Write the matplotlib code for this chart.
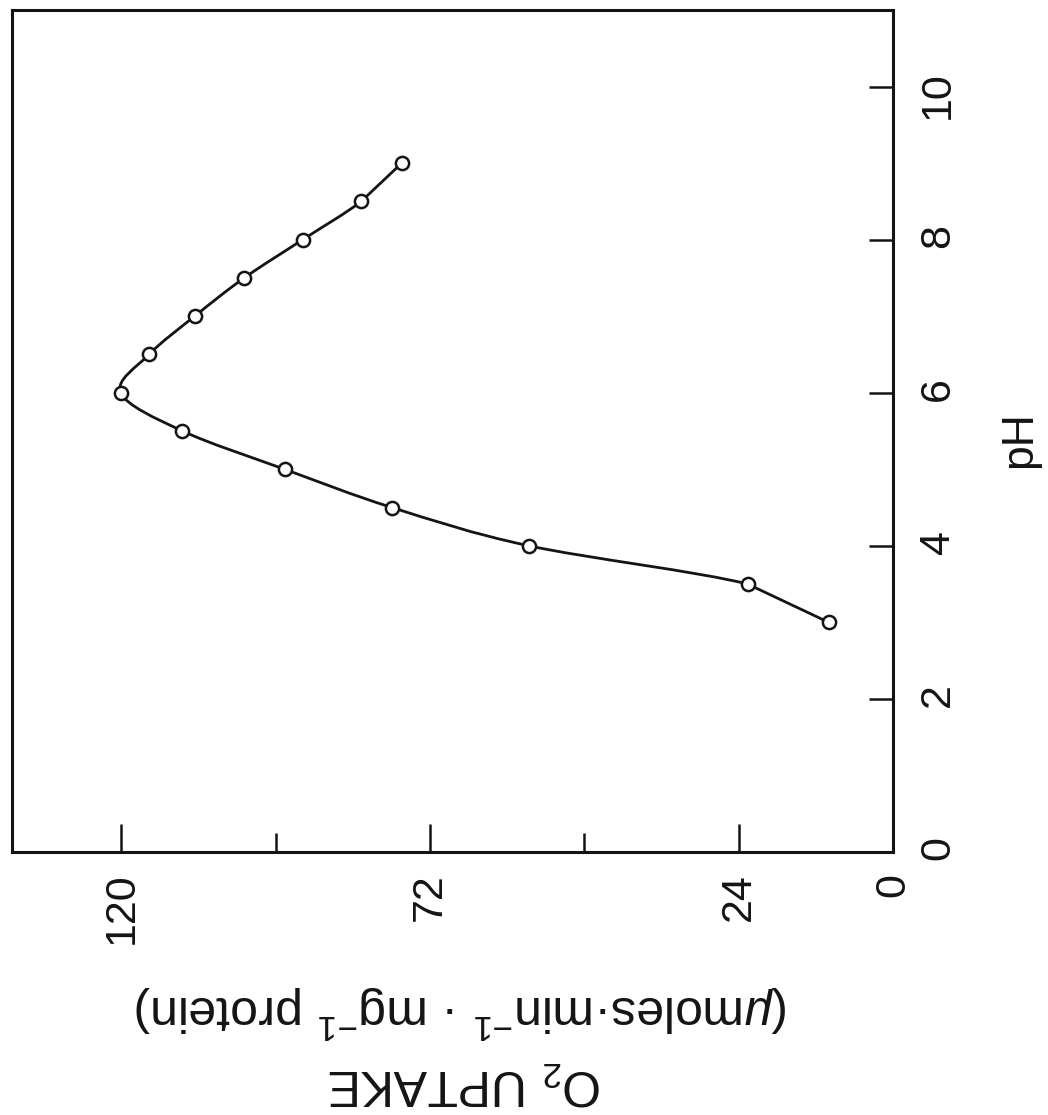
import numpy as np
import matplotlib
matplotlib.use("Agg")
import matplotlib.pyplot as plt
from matplotlib.path import Path
from matplotlib.patches import PathPatch

plt.rcParams['font.family'] = ['Liberation Sans', 'DejaVu Sans']
plt.rcParams['mathtext.fontset'] = 'custom'
plt.rcParams['mathtext.rm'] = 'Liberation Sans'
plt.rcParams['mathtext.it'] = 'Liberation Sans:italic'
plt.rcParams['mathtext.bf'] = 'Liberation Sans:bold'

# Dados (gráfico girado 90°: pH no eixo vertical, consumo de O2 no horizontal)
ph = [3.0, 3.5, 4.0, 4.5, 5.0, 5.5, 6.0, 6.5, 7.0, 7.5, 8.0, 8.5, 9.0]
uptake = [10.0, 22.6, 56.6, 77.9, 94.6, 110.5, 120.1, 115.7, 108.6, 100.9, 91.8, 82.7, 76.4]

uptake_major = [0, 24, 72, 120]
uptake_minor = [48, 96]
ph_ticks = [0, 2, 4, 6, 8, 10]

ink = '#141414'

fig = plt.figure(figsize=(10.48, 11.15), dpi=100)
ax = fig.add_axes([0.0115, 0.2359, 0.8406, 0.7551])

# curva suave passando pelos pontos (Bezier); trechos das pontas retos
pts = np.column_stack([uptake, ph])
verts = [pts[0], pts[1]]
codes = [Path.MOVETO, Path.LINETO]
n = len(pts)
for i in range(1, n - 2):
    p0, p1, p2, p3 = pts[i - 1], pts[i], pts[i + 1], pts[i + 2]
    c1 = p1 + (p2 - p0) / 6.0
    c2 = p2 - (p3 - p1) / 6.0
    verts += [c1, c2, p2]
    codes += [Path.CURVE4] * 3
verts.append(pts[-1])
codes.append(Path.LINETO)
ax.add_patch(PathPatch(Path(verts, codes), fill=False, lw=2.0, color=ink, zorder=2))

ax.plot(uptake, ph, linestyle='none', marker='o', markersize=9.5, markerfacecolor='white',
        markeredgecolor=ink, markeredgewidth=1.8, zorder=3)

ax.set_xlim(137, 0)
ax.set_ylim(0, 11)

ax.set_xticks(uptake_major)
ax.set_xticks(uptake_minor, minor=True)
ax.set_xticklabels([str(v) for v in uptake_major])
ax.set_yticks(ph_ticks)
ax.set_yticklabels([str(v) for v in ph_ticks])

ax.yaxis.tick_right()
ax.tick_params(axis='x', which='major', direction='in', length=20, width=1.8,
               labelsize=31, pad=15, labelrotation=90, colors=ink)
ax.tick_params(axis='x', which='minor', direction='in', length=14, width=1.8, colors=ink)
ax.tick_params(axis='y', which='major', direction='in', length=17, width=1.8,
               labelsize=31, pad=18, labelrotation=90, left=False, right=True, colors=ink)

for sp in ax.spines.values():
    sp.set_linewidth(2.2)
    sp.set_color(ink)

fig.text(1020 / 1048, 1 - 440 / 1115, 'pH', fontsize=32, rotation=90,
         ha='center', va='center', color=ink)
fig.text(462 / 1048, 1 - 1012 / 1115, r'($\mu$moles·min$^{-1}$ · mg$^{-1}$ protein)', fontsize=36,
         rotation=180, ha='center', va='center', color=ink)
fig.text(465 / 1048, 1 - 1083 / 1115, r'O$_2$ UPTAKE', fontsize=36, rotation=180,
         ha='center', va='center', color=ink)

fig.savefig('out.png', dpi=100)
